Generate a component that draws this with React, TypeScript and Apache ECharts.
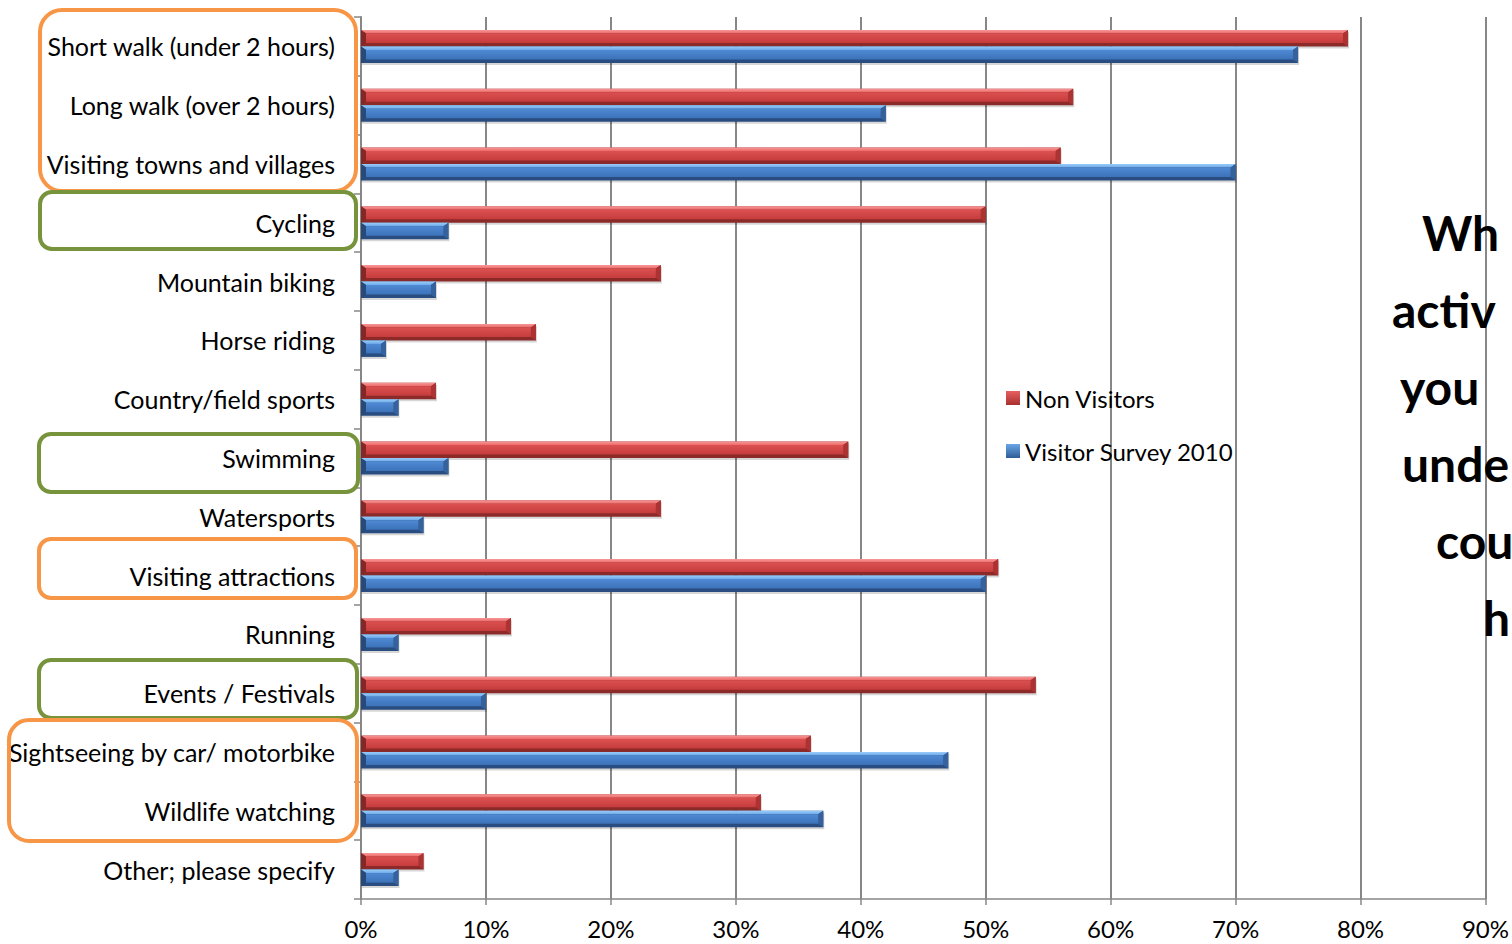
import React, { useEffect, useRef } from "react";
import * as echarts from "echarts";

const categories = [
  "Short walk (under 2 hours)",
  "Long walk (over 2 hours)",
  "Visiting towns and villages",
  "Cycling",
  "Mountain biking",
  "Horse riding",
  "Country/field sports",
  "Swimming",
  "Watersports",
  "Visiting attractions",
  "Running",
  "Events / Festivals",
  "Sightseeing by car/ motorbike",
  "Wildlife watching",
  "Other; please specify",
];
const seriesNames = ["Non Visitors", "Visitor Survey 2010"];
const nonVisitors = [79, 57, 56, 50, 24, 14, 6, 39, 24, 51, 12, 54, 36, 32, 5];
const visitorSurvey2010 = [75, 42, 70, 7, 6, 2, 3, 7, 5, 50, 3, 10, 47, 37, 3];
const xAxisMin = 0;
const xAxisMax = 90;
const xAxisStep = 10;
// visible (cut-off) part of the slide's title text box
const titleLines = ["Wh", "activ", "you", "unde", "cou", "h"];

const FONT = "Lato, 'Open Sans', sans-serif";

type Pal = {
  top: [string, string];
  face: [string, string];
  bottom: string;
  right: string;
  left: string;
  legend: [string, string];
};

const RED: Pal = {
  top: ["#f89898", "#ec6a6a"],
  face: ["#dc5050", "#c63c3c"],
  bottom: "#8c2a2a",
  right: "#ad3333",
  left: "#862727",
  legend: ["#e86060", "#a83030"],
};
const BLUE: Pal = {
  top: ["#98ccf9", "#6eaaea"],
  face: ["#4f8ad4", "#3c72b8"],
  bottom: "#294d80",
  right: "#35629c",
  left: "#284a7a",
  legend: ["#6aa6e8", "#2f5c96"],
};

const vgrad = (a: string, b: string) =>
  new echarts.graphic.LinearGradient(0, 0, 0, 1, [
    { offset: 0, color: a },
    { offset: 1, color: b },
  ]);

function makeRenderer(pal: Pal, side: number) {
  return (params: any, api: any) => {
    const v = api.value(0);
    const c = api.value(1);
    const start = api.coord([0, c]);
    const end = api.coord([v, c]);
    const band = api.size([0, 1])[1];
    const h = band * 0.281;
    const cy = start[1];
    const y0 = side === 0 ? cy - h : cy;
    const y1 = y0 + h;
    const x0 = start[0];
    const x1 = end[0];
    const w = x1 - x0;
    const t = 3.5;
    const b = Math.min(5, w / 3);
    return {
      type: "group",
      children: [
        {
          type: "rect",
          shape: { x: x0 + 1, y: y0 + 2, width: w, height: h },
          style: { fill: "rgba(0,0,0,0.16)" },
        },
        {
          type: "rect",
          shape: { x: x0, y: y0, width: w, height: h },
          style: { fill: pal.bottom },
        },
        {
          type: "polygon",
          shape: { points: [[x0, y0], [x1, y0], [x1 - b, y0 + t], [x0 + b, y0 + t]] },
          style: { fill: vgrad(pal.top[0], pal.top[1]) },
        },
        {
          type: "polygon",
          shape: { points: [[x1, y0], [x1, y1], [x1 - b, y1 - t], [x1 - b, y0 + t]] },
          style: { fill: pal.right },
        },
        {
          type: "polygon",
          shape: { points: [[x0, y0], [x0, y1], [x0 + b, y1 - t], [x0 + b, y0 + t]] },
          style: { fill: pal.left },
        },
        {
          type: "rect",
          shape: { x: x0 + b, y: y0 + t, width: Math.max(0, w - 2 * b), height: h - 2 * t },
          style: { fill: vgrad(pal.face[0], pal.face[1]) },
        },
      ],
    };
  };
}

const boxes = [
  { x: 40, y: 10, w: 316, h: 181, r: 22, c: "#f79646" },
  { x: 40, y: 192, w: 316, h: 57, r: 12, c: "#77933c" },
  { x: 39, y: 434, w: 319, h: 58, r: 12, c: "#77933c" },
  { x: 39, y: 539, w: 317, h: 59, r: 12, c: "#f79646" },
  { x: 39, y: 660, w: 318, h: 58, r: 12, c: "#77933c" },
  { x: 9, y: 720, w: 348, h: 121, r: 20, c: "#f79646" },
];
const titlePos = [
  [1422, 232],
  [1392, 309],
  [1400, 386],
  [1402, 463],
  [1436, 540],
  [1483, 617],
];

export default function App() {
  const ref = useRef<HTMLDivElement>(null);
  useEffect(() => {
    if (!ref.current) return;
    const chart = echarts.init(ref.current, undefined, { renderer: "svg" });
    const grey = "#878787";
    chart.setOption({
      animation: false,
      backgroundColor: "#ffffff",
      grid: { left: 361, right: 26, top: 17, bottom: 45, containLabel: false },
      legend: {
        orient: "vertical",
        left: 1006,
        top: 386,
        padding: 0,
        itemWidth: 14,
        itemHeight: 14,
        itemGap: 29,
        icon: "rect",
        textStyle: { fontSize: 24, fontFamily: FONT, color: "#000" },
        data: [
          { name: seriesNames[0], itemStyle: { color: vgrad(RED.legend[0], RED.legend[1]) } },
          { name: seriesNames[1], itemStyle: { color: vgrad(BLUE.legend[0], BLUE.legend[1]) } },
        ],
      },
      xAxis: {
        type: "value",
        min: xAxisMin,
        max: xAxisMax,
        interval: xAxisStep,
        axisLine: { show: true, lineStyle: { color: grey, width: 1.5 } },
        axisTick: { show: true, length: 6, lineStyle: { color: grey, width: 1.5 } },
        axisLabel: {
          formatter: "{value}%",
          fontSize: 24,
          fontFamily: FONT,
          color: "#000",
          margin: 17,
        },
        splitLine: { show: true, lineStyle: { color: grey, width: 2 } },
      },
      yAxis: {
        type: "category",
        inverse: true,
        data: categories,
        axisLine: { show: true, lineStyle: { color: grey, width: 2 } },
        axisTick: { show: true, length: 7, lineStyle: { color: grey, width: 1.5 } },
        axisLabel: { fontSize: 25, fontFamily: FONT, color: "#000", margin: 26 },
        splitLine: { show: false },
      },
      series: [
        {
          name: seriesNames[0],
          type: "custom",
          itemStyle: { color: vgrad(RED.legend[0], RED.legend[1]) },
          encode: { x: 0, y: 1 },
          renderItem: makeRenderer(RED, 0),
          data: nonVisitors.map((v, i) => [v, i]),
        },
        {
          name: seriesNames[1],
          type: "custom",
          itemStyle: { color: vgrad(BLUE.legend[0], BLUE.legend[1]) },
          encode: { x: 0, y: 1 },
          renderItem: makeRenderer(BLUE, 1),
          data: visitorSurvey2010.map((v, i) => [v, i]),
        },
      ],
      graphic: [
        ...boxes.map((b) => ({
          type: "rect",
          z: 100,
          shape: { x: b.x, y: b.y, width: b.w, height: b.h, r: b.r },
          style: { fill: "none", stroke: b.c, lineWidth: 4 },
        })),
        ...titleLines.map((t, i) => ({
          type: "text",
          z: 100,
          x: titlePos[i][0],
          y: titlePos[i][1],
          style: {
            text: t,
            fontSize: 48,
            fontWeight: "bold",
            fontFamily: FONT,
            fill: "#000",
            textAlign: "left",
            textVerticalAlign: "middle",
          },
        })),
      ],
    });
    return () => chart.dispose();
  }, []);
  return (
    <div
      ref={ref}
      style={{ position: "fixed", left: 0, top: 0, width: 1512, height: 944 }}
    />
  );
}
